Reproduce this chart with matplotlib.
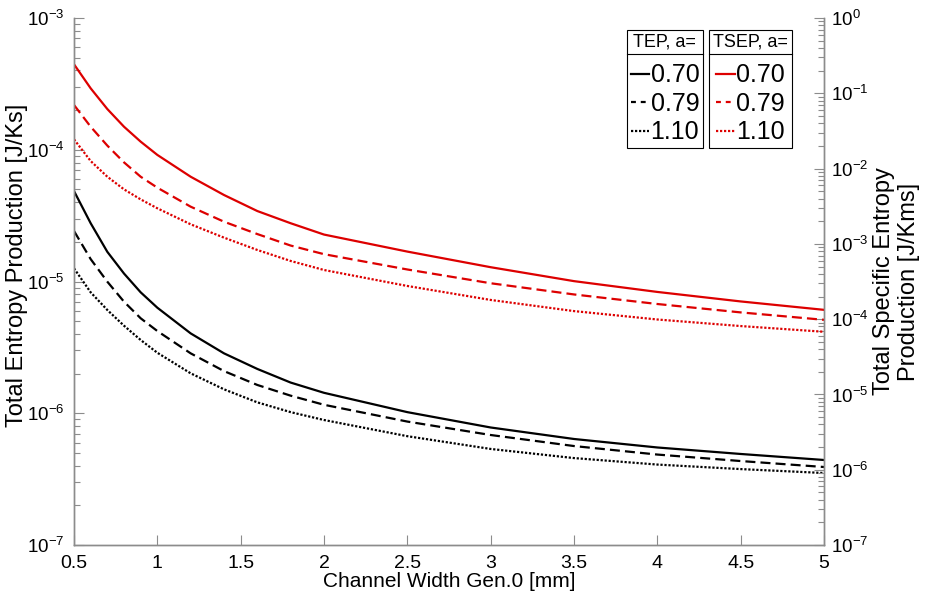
import matplotlib
matplotlib.use('Agg')
import matplotlib.pyplot as plt
from matplotlib.ticker import LogLocator, LogFormatterMathtext, NullFormatter
from matplotlib.lines import Line2D

plt.rcParams['font.family'] = ['Liberation Sans', 'DejaVu Sans']
plt.rcParams['mathtext.default'] = 'regular'
plt.rcParams['axes.unicode_minus'] = False

# channel width, gen.0 [mm]
width = [0.5, 0.6, 0.7, 0.8, 0.9, 1.0, 1.2, 1.4, 1.6, 1.8, 2.0, 2.5, 3.0, 3.5, 4.0, 4.5, 5.0]

# total entropy production [J/Ks]
tep_070 = [4.86e-5, 2.77e-5, 1.68e-5, 1.15e-5, 8.28e-6, 6.33e-6, 4.04e-6, 2.85e-6, 2.17e-6,
           1.71e-6, 1.43e-6, 1.02e-6, 7.8e-7, 6.38e-7, 5.5e-7, 4.91e-7, 4.42e-7]
tep_079 = [2.42e-5, 1.48e-5, 9.97e-6, 7.03e-6, 5.26e-6, 4.21e-6, 2.85e-6, 2.09e-6, 1.64e-6,
           1.36e-6, 1.16e-6, 8.65e-7, 6.84e-7, 5.64e-7, 4.86e-7, 4.34e-7, 3.91e-7]
tep_110 = [1.26e-5, 8.28e-6, 6.08e-6, 4.62e-6, 3.6e-6, 2.88e-6, 2.01e-6, 1.52e-6, 1.21e-6,
           1.02e-6, 8.89e-7, 6.7e-7, 5.36e-7, 4.57e-7, 4.08e-7, 3.77e-7, 3.52e-7]

# total specific entropy production [J/Kms]
tsep_070 = [0.243, 0.1165, 0.0618, 0.036, 0.0228, 0.0152, 7.8e-3, 4.46e-3, 2.73e-3,
            1.88e-3, 1.33e-3, 7.9e-4, 4.9e-4, 3.2e-4, 2.3e-4, 1.72e-4, 1.33e-4]
tsep_079 = [0.070, 0.036, 0.0202, 0.0121, 7.8e-3, 5.58e-3, 3.12e-3, 1.97e-3, 1.35e-3,
            9.5e-4, 7.3e-4, 4.57e-4, 3.0e-4, 2.13e-4, 1.59e-4, 1.23e-4, 9.8e-5]
tsep_110 = [0.0245, 0.0126, 7.8e-3, 5.3e-3, 3.9e-3, 2.97e-3, 1.82e-3, 1.21e-3, 8.3e-4,
            5.93e-4, 4.5e-4, 2.76e-4, 1.8e-4, 1.28e-4, 9.9e-5, 8.1e-5, 6.8e-5]

a_labels = ['0.70', '0.79', '1.10']
styles = ['-', (0, (4.5, 2.3)), (0, (1, 0.8))]
leg_styles = ['-', (0, (2.2, 2.2)), (0, (1, 0.8))]
red = '#dd0000'
gray = '#8c8c8c'

fig = plt.figure(figsize=(9.25, 5.95), dpi=100)
ax = fig.add_axes([0.08, 0.084, 0.8108, 0.8857])
ax2 = ax.twinx()

for y, ls in zip([tep_070, tep_079, tep_110], styles):
    ax.plot(width, y, color='k', ls=ls, lw=1.6)
for y, ls in zip([tsep_070, tsep_079, tsep_110], styles):
    ax2.plot(width, y, color=red, ls=ls, lw=1.6)

# legend handles with shorter dashes, like the original legend
h1 = [Line2D([], [], color='k', ls=ls, lw=1.6) for ls in leg_styles]
h2 = [Line2D([], [], color=red, ls=ls, lw=1.6) for ls in leg_styles]

ax.set_yscale('log')
ax2.set_yscale('log')
ax.set_xlim(0.5, 5)
ax.set_ylim(1e-7, 1e-3)
ax2.set_ylim(1e-7, 1e0)
ax.set_xticks([0.5, 1, 1.5, 2, 2.5, 3, 3.5, 4, 4.5, 5])
ax.set_xticklabels(['0.5', '1', '1.5', '2', '2.5', '3', '3.5', '4', '4.5', '5'])

for a in (ax, ax2):
    a.yaxis.set_major_locator(LogLocator(base=10, numticks=20))
    a.yaxis.set_minor_locator(LogLocator(base=10, subs=range(2, 10), numticks=20))
    a.yaxis.set_major_formatter(LogFormatterMathtext())
    a.yaxis.set_minor_formatter(NullFormatter())
    a.tick_params(which='both', direction='in', color=gray, labelcolor='k')
    a.tick_params(axis='y', labelsize=13.5)
    a.tick_params(which='major', length=7, width=0.8)
    a.tick_params(which='minor', length=4, width=0.8)
    a.spines['top'].set_visible(False)
    for s in ('left', 'right', 'bottom'):
        a.spines[s].set_color(gray)
        a.spines[s].set_linewidth(1.0)
ax.tick_params(axis='x', pad=7, labelsize=14)
ax.tick_params(axis='y', pad=7)
ax2.tick_params(axis='y', pad=5)

ax.set_xlabel('Channel Width Gen.0 [mm]', fontsize=15, labelpad=0)
ax.set_ylabel('Total Entropy Production [J/Ks]', fontsize=17)
ax.yaxis.set_label_coords(-0.062, 0.53)
ax2.set_ylabel('Total Specific Entropy\nProduction [J/Kms]', fontsize=17,
               rotation=90, linespacing=1.15)
ax2.yaxis.set_label_coords(1.066, 0.5)

leg_kw = dict(loc='upper right', fontsize=18, title_fontsize=13,
              handlelength=0.75, handletextpad=0.05, borderpad=0.15,
              labelspacing=0.18, fancybox=False, edgecolor='k',
              framealpha=1, borderaxespad=0)
leg1 = ax2.legend(h1, a_labels, title='TEP, a=', bbox_to_anchor=(0.8387, 0.977), **leg_kw)
ax2.add_artist(leg1)
leg2 = ax2.legend(h2, a_labels, title='TSEP, a=', bbox_to_anchor=(0.957, 0.977), **leg_kw)
for lg in (leg1, leg2):
    lg.get_frame().set_linewidth(0.8)
    lg._legend_box.sep = 9  # more room between title and entries

# line under each legend title
fig.canvas.draw()
r = fig.canvas.get_renderer()
for lg in (leg1, leg2):
    fb = lg.get_frame().get_window_extent(r)
    tb = lg.get_title().get_window_extent(r)
    yline = tb.y0 - 3
    fig.add_artist(Line2D([fb.x0, fb.x1], [yline, yline], transform=None,
                          color='k', lw=0.8))

fig.savefig('out.png', dpi=100)
